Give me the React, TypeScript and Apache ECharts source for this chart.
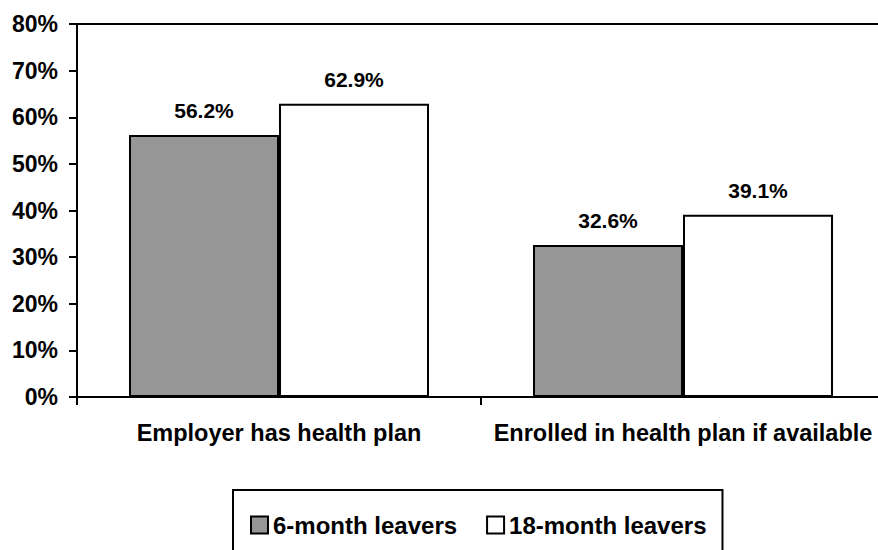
import React, { useEffect, useRef } from "react";
import * as echarts from "echarts";

const categories = ["Employer has health plan", "Enrolled in health plan if available"];
const seriesNames = ["6-month leavers", "18-month leavers"];
const sixMonth = [56.2, 32.6];
const eighteenMonth = [62.9, 39.1];
const yTicks = { min: 0, max: 80, interval: 10 };

const FONT = "'Liberation Sans', Arial, Helvetica, sans-serif";

export default function App() {
  const ref = useRef<HTMLDivElement>(null);
  useEffect(() => {
    if (!ref.current) return;
    const chart = echarts.init(ref.current, null, { renderer: "svg" });
    const labelStyle = {
      show: true,
      position: "top" as const,
      distance: 14,
      formatter: (p: any) => p.value.toFixed(1) + "%",
      color: "#000",
      fontWeight: "bold" as const,
      fontSize: 21,
      fontFamily: FONT,
    };
    chart.setOption({
      animation: false,
      backgroundColor: "#fff",
      textStyle: { fontFamily: FONT },
      grid: {
        left: 77,
        top: 24,
        right: -7,
        bottom: 153,
        outerBoundsMode: "none",
        containLabel: false,
        show: true,
        borderColor: "#000",
        borderWidth: 2,
        backgroundColor: "transparent",
      },
      legend: {
        left: 233,
        top: 490,
        padding: [23, 16, 40, 17],
        itemWidth: 17,
        itemHeight: 17,
        itemGap: 29,
        borderColor: "#000",
        borderWidth: 2,
        icon: "rect",
        textStyle: { color: "#000", fontWeight: "bold", fontSize: 24, fontFamily: FONT },
        data: seriesNames,
      },
      xAxis: {
        type: "category",
        data: categories,
        axisLine: { lineStyle: { color: "#000", width: 2 } },
        axisTick: { show: true, length: 8, lineStyle: { color: "#000", width: 2 } },
        axisLabel: {
          interval: 0,
          hideOverlap: false,
          color: "#000",
          fontWeight: "bold",
          fontSize: 23.5,
          fontFamily: FONT,
          margin: 24,
        },
      },
      yAxis: {
        type: "value",
        min: yTicks.min,
        max: yTicks.max,
        interval: yTicks.interval,
        splitLine: { show: false },
        axisLine: { show: true, lineStyle: { color: "#000", width: 2 } },
        axisTick: { show: true, length: 8, lineStyle: { color: "#000", width: 2 } },
        axisLabel: {
          color: "#000",
          fontWeight: "bold",
          fontSize: 23,
          fontFamily: FONT,
          margin: 19,
          formatter: (v: number) => v + "%",
        },
      },
      series: [
        {
          name: seriesNames[0],
          type: "bar",
          data: sixMonth,
          barWidth: 150,
          barGap: "0%",
          itemStyle: { color: "#969696", borderColor: "#000", borderWidth: 2 },
          label: labelStyle,
        },
        {
          name: seriesNames[1],
          type: "bar",
          data: eighteenMonth,
          barWidth: 150,
          barGap: "0%",
          itemStyle: { color: "#fff", borderColor: "#000", borderWidth: 2 },
          label: labelStyle,
        },
      ],
    });
    return () => chart.dispose();
  }, []);
  return <div ref={ref} style={{ width: 878, height: 550, position: "fixed", left: 0, top: 0 }} />;
}
